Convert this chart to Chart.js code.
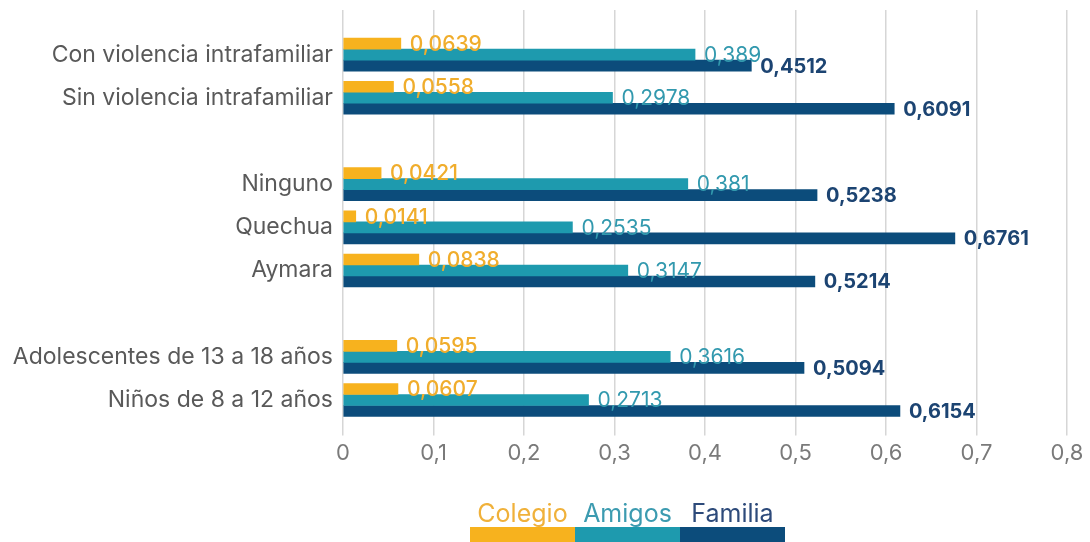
<!DOCTYPE html>
<html>
<head>
<meta charset="utf-8">
<script src="https://cdn.jsdelivr.net/npm/chart.js@4"></script>
<style>
  html, body { margin: 0; padding: 0; background: #fff; }
  #wrap { position: relative; width: 1090px; height: 542px; }
  #legend { position: absolute; left: 470px; bottom: 0; display: flex; font-family: Inter, sans-serif; }
  #legend div { width: 105px; text-align: center; font-size: 25px; line-height: 27px; }
</style>
</head>
<body>
<div id="wrap">
  <canvas id="chart" width="1090" height="542"></canvas>
  <div id="legend"></div>
</div>
<script>
// --- data ---
const categories = [
  'Con violencia intrafamiliar',
  'Sin violencia intrafamiliar',
  '',
  'Ninguno',
  'Quechua',
  'Aymara',
  '',
  'Adolescentes de 13 a 18 años',
  'Niños de 8 a 12 años'
];
const colegio = [0.0639, 0.0558, null, 0.0421, 0.0141, 0.0838, null, 0.0595, 0.0607];
const amigos  = [0.389, 0.2978, null, 0.381, 0.2535, 0.3147, null, 0.3616, 0.2713];
const familia = [0.4512, 0.6091, null, 0.5238, 0.6761, 0.5214, null, 0.5094, 0.6154];
const xTicks = [0, 0.1, 0.2, 0.3, 0.4, 0.5, 0.6, 0.7, 0.8];

const comma = v => String(v).replace('.', ',');

// value labels, drawn right after each dataset so the next bars cover them a bit
const valueLabels = {
  id: 'valueLabels',
  afterDatasetDraw(chart, args) {
    const ds = chart.data.datasets[args.index];
    const ctx = chart.ctx;
    ctx.save();
    ctx.font = ds.labelFont;
    ctx.fillStyle = ds.labelColor;
    ctx.textAlign = 'left';
    ctx.textBaseline = 'middle';
    args.meta.data.forEach((bar, i) => {
      const v = ds.data[i];
      if (v == null) return;
      ctx.fillText(comma(v), bar.x + 9, bar.y + 1);
    });
    ctx.restore();
  }
};

const gridColor = '#d6d6d6';
// keep the plot edges where the picture has them (0 at x=343, 0,8 at x=1067)
const noSidePad = s => { s.paddingLeft = 0; s.paddingRight = 0; };

const chart = new Chart(document.getElementById('chart'), {
  type: 'bar',
  data: {
    labels: categories,
    datasets: [
      { label: 'Colegio', data: colegio, backgroundColor: '#f7b21e', barThickness: 11,
        labelColor: '#f0ad2c', labelFont: '500 21px Inter', legendColor: '#f0b13a' },
      { label: 'Amigos', data: amigos, backgroundColor: '#1e9aae', barThickness: 11,
        labelColor: '#3299ae', labelFont: '400 21px Inter', legendColor: '#3c9bb0' },
      { label: 'Familia', data: familia, backgroundColor: '#0c4c7b', barThickness: 11,
        labelColor: '#1c4472', labelFont: '700 20px Inter', legendColor: '#2d4a7a' }
    ]
  },
  options: {
    indexAxis: 'y',
    responsive: false,
    animation: false,
    layout: { padding: { top: 10, right: 23, bottom: 70, left: 0 } },
    plugins: { legend: { display: false }, tooltip: { enabled: false } },
    scales: {
      x: {
        position: 'bottom',
        min: 0, max: 0.8,
        afterBuildTicks: s => { s.ticks = xTicks.map(v => ({ value: v })); },
        afterFit: noSidePad,
        grid: { color: gridColor, lineWidth: 1.5, tickLength: 14 },
        border: { display: false },
        ticks: {
          padding: 5,
          maxRotation: 0,
          color: '#7a7a7a',
          font: { family: 'Inter', size: 22 },
          callback: v => comma(Math.round(v * 10) / 10)
        }
      },
      xTop: {
        axis: 'x',
        position: 'top',
        min: 0, max: 0.8,
        afterBuildTicks: s => { s.ticks = xTicks.map(v => ({ value: v })); },
        afterFit: noSidePad,
        grid: { color: gridColor, lineWidth: 1.5, tickLength: 23, drawOnChartArea: false },
        border: { display: false },
        ticks: { display: false }
      },
      y: {
        grid: { display: false, drawTicks: false },
        border: { display: false },
        afterFit: s => { s.width = 343; },
        ticks: {
          padding: 10,
          color: '#595959',
          font: { family: 'Inter', size: 23 }
        }
      }
    }
  },
  plugins: [valueLabels]
});

// legend: coloured name over a thick colour band
const legend = document.getElementById('legend');
chart.data.datasets.forEach(ds => {
  const d = document.createElement('div');
  d.textContent = ds.label;
  d.style.color = ds.legendColor;
  d.style.borderBottom = '15px solid ' + ds.backgroundColor;
  legend.appendChild(d);
});
</script>
</body>
</html>
